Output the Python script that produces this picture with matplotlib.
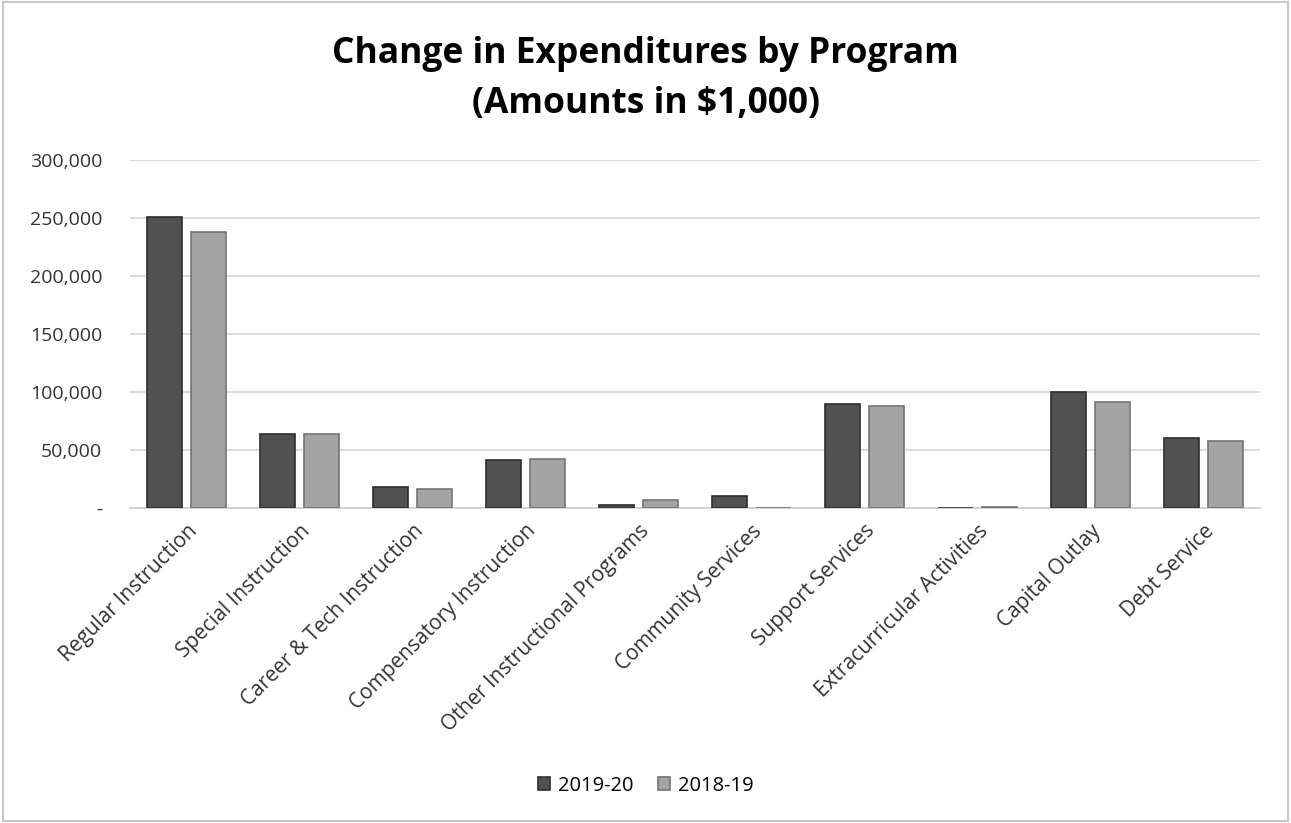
import matplotlib.pyplot as plt
import numpy as np
from matplotlib.patches import Rectangle

categories = ['Regular Instruction', 'Special Instruction', 'Career & Tech Instruction',
              'Compensatory Instruction', 'Other Instructional Programs', 'Community Services',
              'Support Services', 'Extracurricular Activities', 'Capital Outlay', 'Debt Service']
fy2019_20 = [251000, 64000, 18000, 41500, 3000, 10000, 90000, 0, 100000, 60000]
fy2018_19 = [238000, 64000, 16000, 42500, 7000, 0, 88000, 1000, 91000, 58000]

plt.rcParams['font.family'] = ['Open Sans', 'DejaVu Sans']

fig = plt.figure(figsize=(12.91, 8.23), dpi=100)
ax = fig.add_axes([0.1007, 0.3827, 0.8753, 0.4229])

x = np.arange(len(categories))
w = 0.31
ax.bar(x - 0.195, fy2019_20, w, color='#515151', edgecolor='#2e2e2e', linewidth=1.2, label='2019-20', zorder=3)
ax.bar(x + 0.195, fy2018_19, w, color='#a4a4a4', edgecolor='#747474', linewidth=1.2, label='2018-19', zorder=3)

ax.set_xlim(-0.5, len(categories) - 0.5)
ax.set_ylim(0, 300000)
ticks = range(0, 300001, 50000)
ax.set_yticks(ticks)
ax.set_yticklabels(['-' if v == 0 else f'{v:,}' for v in ticks], fontsize=14, color='#333333')
ax.set_xticks(x)
ax.set_xticklabels(categories, rotation=45, ha='right', rotation_mode='anchor',
                   fontsize=15, color='#333333')
ax.tick_params(axis='y', length=0, pad=20)
ax.tick_params(axis='x', length=0, pad=9)
ax.grid(axis='y', color='#d9d9d9', linewidth=1.3, zorder=0)
for s in ['top', 'right', 'left']:
    ax.spines[s].set_visible(False)
ax.spines['bottom'].set_color('#d0d0d0')
ax.spines['bottom'].set_linewidth(1.3)

fig.text(0.5, 0.904, 'Change in Expenditures by Program\n(Amounts in $1,000)',
         ha='center', va='center', fontsize=25.5, fontweight='bold', linespacing=1.55)

fig.legend(loc='center', bbox_to_anchor=(0.5, 0.045), ncol=2, frameon=False,
           fontsize=14.5, handlelength=0.6, handleheight=0.6, columnspacing=1.2,
           handletextpad=0.4)

fig.patches.append(Rectangle((0.002, 0.003), 0.996, 0.994, transform=fig.transFigure,
                             fill=False, edgecolor='#c8c8c8', linewidth=1.5))

fig.savefig('out.png', dpi=100)
